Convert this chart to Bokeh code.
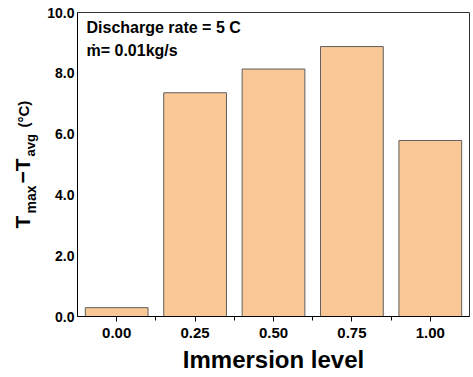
import math
from bokeh.plotting import figure
from bokeh.layouts import row
from bokeh.models import FixedTicker, PrintfTickFormatter, Label, Range1d, ColumnDataSource
from bokeh.embed import file_html
from bokeh.resources import INLINE

# data
levels = [0.00, 0.25, 0.50, 0.75, 1.00]
delta_t = [0.29, 7.36, 8.14, 8.88, 5.79]
x_ticks = [0.00, 0.25, 0.50, 0.75, 1.00]
x_minor = [0.125, 0.375, 0.625, 0.875]
y_ticks = [0, 2, 4, 6, 8, 10]

FONT = "Liberation Sans"
LEFT_W = 39

p = figure(width=473 - LEFT_W, height=377, output_backend="svg", toolbar_location=None,
           x_range=Range1d(-0.125, 1.125), y_range=Range1d(0, 10),
           min_border_left=77 - LEFT_W, min_border_right=4, min_border_top=12,
           min_border_bottom=61)

src = ColumnDataSource(dict(x=levels, top=delta_t))
p.vbar(x="x", top="top", bottom=0, width=0.2, source=src,
       fill_color="#F9C896", line_color="#5E5E5E", line_width=1)

p.grid.visible = False
p.outline_line_color = "#333333"
p.outline_line_width = 1
p.background_fill_color = "white"
p.border_fill_color = "white"

xa = p.xaxis[0]
xa.ticker = FixedTicker(ticks=x_ticks, minor_ticks=x_minor)
xa.formatter = PrintfTickFormatter(format="%.2f")
xa.axis_label = "Immersion level"
xa.axis_label_text_font = FONT
xa.axis_label_text_font_style = "bold"
xa.axis_label_text_font_size = "24px"
xa.axis_label_text_color = "black"
xa.axis_label_standoff = 5
xa.major_label_text_font = FONT
xa.major_label_text_font_style = "bold"
xa.major_label_text_font_size = "15px"
xa.major_label_text_color = "black"
xa.major_label_standoff = 6
xa.major_tick_in = 0
xa.major_tick_out = 5
xa.minor_tick_in = 0
xa.minor_tick_out = 4
xa.axis_line_color = "black"
xa.major_tick_line_color = "black"
xa.minor_tick_line_color = "black"

ya = p.yaxis[0]
ya.ticker = FixedTicker(ticks=y_ticks, minor_ticks=[])
ya.formatter = PrintfTickFormatter(format="%.1f")
ya.major_label_text_font = FONT
ya.major_label_text_font_style = "bold"
ya.major_label_text_font_size = "14px"
ya.major_label_text_color = "black"
ya.major_label_standoff = 3
ya.major_tick_in = 0
ya.major_tick_out = 0
ya.minor_tick_out = 0
ya.axis_line_color = "black"


def lab(fig, text, x, y, size, angle=0.0):
    fig.add_layout(Label(x=x, y=y, x_units="screen", y_units="screen", text=text,
                         text_font=FONT, text_font_style="bold", text_font_size=size,
                         text_color="black", angle=angle, text_baseline="alphabetic",
                         text_align="left"))


lab(p, "Discharge rate = 5 C", 9, 289, "16px")
lab(p, "\u1e41= 0.01kg/s", 9, 266, "16px")

# narrow strip holding the y-axis title: T_max - T_avg (°C)
q = figure(width=LEFT_W, height=377, output_backend="svg", toolbar_location=None,
           x_range=Range1d(0, 1), y_range=Range1d(0, 1),
           x_axis_location=None, y_axis_location=None,
           min_border_left=0, min_border_right=0, min_border_top=12, min_border_bottom=61)
q.grid.visible = False
q.outline_line_color = None
q.border_fill_color = "white"

a = math.pi / 2
lab(q, "T", 22, 88, "21px", a)
lab(q, "max", 30, 103, "14px", a)
lab(q, "\u2212T", 22, 133, "21px", a)
lab(q, "avg", 30, 160, "13px", a)
lab(q, "(\u00b0C)", 23, 189, "15px", a)

layout = row(q, p, spacing=0)
open("out.html", "w").write(file_html(layout, INLINE))
